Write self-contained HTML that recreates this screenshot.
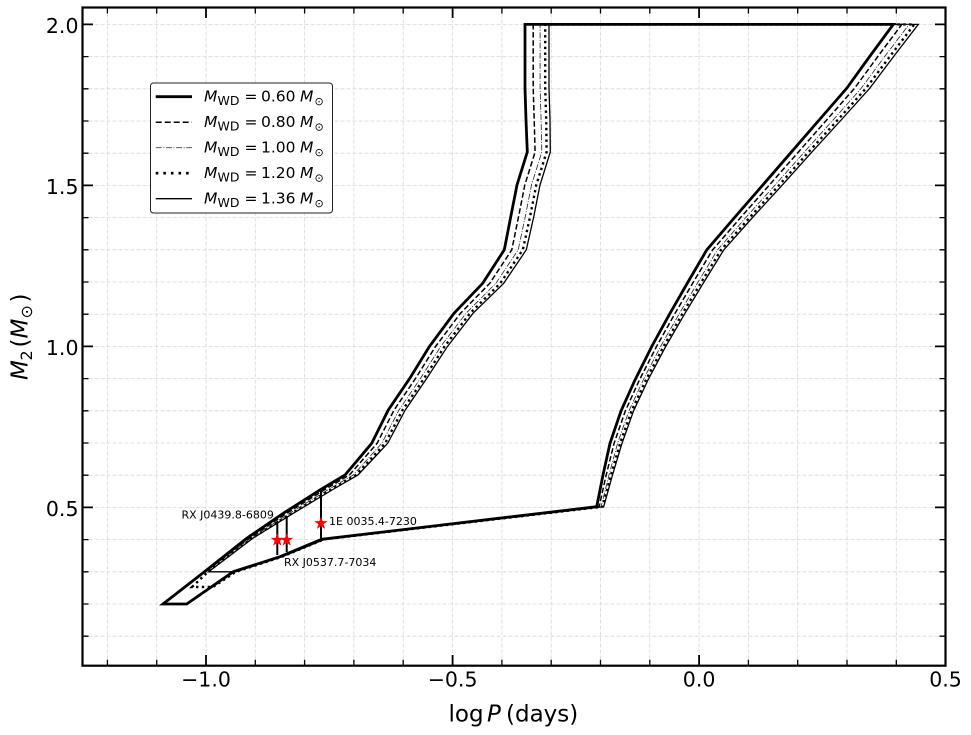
<!DOCTYPE html>
<html><head><meta charset="utf-8"><style>html,body{margin:0;padding:0;background:#fff}svg{display:block}</style></head>
<body>
<svg width="971" height="735" viewBox="0 0 971 735" xmlns="http://www.w3.org/2000/svg" font-family="'DejaVu Sans','Liberation Sans',sans-serif">
<defs><clipPath id="ax"><rect x="82.5" y="7.5" width="863" height="658.2"/></clipPath></defs>
<rect width="971" height="735" fill="#fff"/>
<!-- grid -->
<g stroke="#d8d8d8" stroke-width="0.8" stroke-dasharray="4 2" fill="none">
<path d="M107.4,7.5V665.7M156.7,7.5V665.7M206,7.5V665.7M255.3,7.5V665.7M304.6,7.5V665.7M353.9,7.5V665.7M403.2,7.5V665.7M452.6,7.5V665.7M501.9,7.5V665.7M551.2,7.5V665.7M600.5,7.5V665.7M649.8,7.5V665.7M699.1,7.5V665.7M748.4,7.5V665.7M797.7,7.5V665.7M847,7.5V665.7M896.3,7.5V665.7"/>
<path d="M82.5,636.2H945.5M82.5,604H945.5M82.5,571.8H945.5M82.5,539.6H945.5M82.5,507.4H945.5M82.5,475.2H945.5M82.5,443H945.5M82.5,410.8H945.5M82.5,378.6H945.5M82.5,346.4H945.5M82.5,314.2H945.5M82.5,282H945.5M82.5,249.8H945.5M82.5,217.6H945.5M82.5,185.4H945.5M82.5,153.2H945.5M82.5,121H945.5M82.5,88.8H945.5M82.5,56.6H945.5M82.5,24.4H945.5"/>
</g>
<g clip-path="url(#ax)" fill="none" stroke="#000" stroke-linejoin="miter">
<!-- 1.36 thin solid -->
<path stroke-width="1.3" d="M208.5,571.8 L252.7,538.3 L293.3,513.3 L332,490 L358,475 L387.7,443.3 L405.3,410 L427,378 L447.3,346.7 L473,313.3 L503.7,283.3 L526.3,249.8 L533.7,217 L540,185 L550.3,152 L550,120 L549,88 L549,24.4 L918.3,24.4 L894,56 L869.7,88.3 L840.7,120.5 L811.3,152.7 L782.4,184.9 L753,217 L723.7,250 L704,282 L685,313.3 L666,346 L648,380 L633.5,411 L622,443.3 L612.5,475 L603.7,506.7 L324.7,539.3 L282.5,556.7 L235.5,571.8 Z"/>
<!-- 1.20 dotted -->
<path stroke-width="2.4" stroke-dasharray="2.4 3.4" d="M192,587 L210,570 L251.7,538.3 L291.7,513.3 L330.1,490 L355.9,475 L385.1,443.3 L402.6,410 L424.3,378 L444.4,346.7 L470,313.3 L500.3,283.3 L522.8,249.8 L530,217 L536.3,185 L546.6,152 L546.2,120 L545.2,88 L545.2,24.4 L914.3,24.4 L890.2,56 L866,88.3 L837.2,120.5 L808,152.7 L779.3,184.9 L750.1,217 L721,250 L701.4,282 L682.6,313.3 L663.8,346 L645.9,380 L631.5,411 L620.1,443.3 L611,475 L602.6,506.7 L324.2,539.3 L282,556.7 L235.5,572 L213,587 Z"/>
<!-- 1.00 dash-dot thin -->
<path stroke-width="0.8" stroke="#222" stroke-dasharray="6 1.6 1 1.6" d="M164,604 L208,570 L250.5,538.3 L289.6,513.3 L327.6,490 L353.2,475 L381.8,443.3 L399,410 L420.7,378 L440.6,346.7 L466,313.3 L495.9,283.3 L518.2,249.8 L525.2,217 L531.5,185 L541.8,152 L541.1,120 L540.1,88 L540.1,24.4 L909.1,24.4 L885.1,56 L861.2,88.3 L832.6,120.5 L803.7,152.7 L775.2,184.9 L746.3,217 L717.4,250 L698.1,282 L679.5,313.3 L660.8,346 L643.2,380 L628.9,411 L617.6,443.3 L609,475 L601.1,506.7 L323.6,539.3 L281.3,556.7 L234.6,571.7 L188,604 Z"/>
<!-- 0.80 dashed -->
<path stroke-width="1.5" stroke-dasharray="5.5 2.6" d="M163,604 L207.4,570 L248.7,538.3 L286.7,513.3 L324.1,490 L349.4,475 L377.1,443.3 L394.1,410 L415.8,378 L435.4,346.7 L460.5,313.3 L489.8,283.3 L511.8,249.8 L518.5,217 L524.8,185 L535.1,152 L534.2,120 L533.2,88 L533.2,24.4 L901.8,24.4 L878.2,56 L854.5,88.3 L826.2,120.5 L797.8,152.7 L769.5,184.9 L741.1,217 L712.5,250 L693.4,282 L675.1,313.3 L656.8,346 L639.4,380 L625.3,411 L614.1,443.3 L606.2,475 L599.1,506.7 L322.7,539.3 L280.7,556.7 L234,571.7 L187,604 Z"/>
<!-- 0.60 thick -->
<path stroke-width="2.8" d="M163,604 L206.7,570 L246.7,538.3 L283.3,513.3 L320,490 L345,475 L371.7,443.3 L388.3,410 L410,378 L429.3,346.7 L454,313.3 L482.7,283.3 L504.3,249.8 L510.7,217 L517,185 L527.3,152 L526,120 L525,88 L525,24.4 L893.3,24.4 L870,56 L846.7,88.3 L818.7,120.5 L790.8,152.7 L762.9,184.9 L735,217 L706.7,250 L688,282 L670,313.3 L652,346 L635,380 L621,411 L610,443.3 L603,475 L596.7,506.7 L321.7,539.3 L280,556.7 L233.3,571.7 L186.7,604 Z"/>
<!-- error bars -->
<g stroke-width="2">
<line x1="277.3" y1="521" x2="277.3" y2="555"/>
<line x1="286.7" y1="516" x2="286.7" y2="552"/>
<line x1="321" y1="490" x2="321" y2="540"/>
</g>
</g>
<!-- stars -->
<g fill="#ff0000" stroke="#ff0000" stroke-width="0.1">
<polygon transform="translate(277.3,540) scale(6)" points="0,-1 0.235,-0.324 0.951,-0.309 0.38,0.124 0.588,0.809 0,0.4 -0.588,0.809 -0.38,0.124 -0.951,-0.309 -0.235,-0.324"/>
<polygon transform="translate(286.7,540) scale(6)" points="0,-1 0.235,-0.324 0.951,-0.309 0.38,0.124 0.588,0.809 0,0.4 -0.588,0.809 -0.38,0.124 -0.951,-0.309 -0.235,-0.324"/>
<polygon transform="translate(321,523.3) scale(6)" points="0,-1 0.235,-0.324 0.951,-0.309 0.38,0.124 0.588,0.809 0,0.4 -0.588,0.809 -0.38,0.124 -0.951,-0.309 -0.235,-0.324"/>
</g>
<!-- annotations -->
<g font-size="11" fill="#000">
<text x="181.5" y="518.5">RX J0439.8-6809</text>
<text x="329" y="525">1E 0035.4-7230</text>
<text x="284" y="566">RX J0537.7-7034</text>
</g>
<!-- ticks -->
<g stroke="#000" fill="none">
<path stroke-width="1.3" d="M107.4,665.7V659.7M156.7,665.7V659.7M255.3,665.7V659.7M304.6,665.7V659.7M353.9,665.7V659.7M403.2,665.7V659.7M501.9,665.7V659.7M551.2,665.7V659.7M600.5,665.7V659.7M649.8,665.7V659.7M748.4,665.7V659.7M797.7,665.7V659.7M847,665.7V659.7M896.3,665.7V659.7
M107.4,7.5V13.5M156.7,7.5V13.5M255.3,7.5V13.5M304.6,7.5V13.5M353.9,7.5V13.5M403.2,7.5V13.5M501.9,7.5V13.5M551.2,7.5V13.5M600.5,7.5V13.5M649.8,7.5V13.5M748.4,7.5V13.5M797.7,7.5V13.5M847,7.5V13.5M896.3,7.5V13.5
M82.5,636.2H88.5M82.5,604H88.5M82.5,571.8H88.5M82.5,539.6H88.5M82.5,475.2H88.5M82.5,443H88.5M82.5,410.8H88.5M82.5,378.6H88.5M82.5,314.2H88.5M82.5,282H88.5M82.5,249.8H88.5M82.5,217.6H88.5M82.5,153.2H88.5M82.5,121H88.5M82.5,88.8H88.5M82.5,56.6H88.5
M945.5,636.2H939.5M945.5,604H939.5M945.5,571.8H939.5M945.5,539.6H939.5M945.5,475.2H939.5M945.5,443H939.5M945.5,410.8H939.5M945.5,378.6H939.5M945.5,314.2H939.5M945.5,282H939.5M945.5,249.8H939.5M945.5,217.6H939.5M945.5,153.2H939.5M945.5,121H939.5M945.5,88.8H939.5M945.5,56.6H939.5"/>
<path stroke-width="1.8" d="M206,665.7V655M452.6,665.7V655M699.1,665.7V655M206,7.5V18M452.6,7.5V18M699.1,7.5V18M82.5,507.4H93M82.5,346.4H93M82.5,185.4H93M82.5,24.4H93M945.5,507.4H935M945.5,346.4H935M945.5,185.4H935M945.5,24.4H935"/>
<rect x="82.5" y="7.5" width="863" height="658.2" stroke-width="2.2"/>
</g>
<!-- tick labels -->
<g font-size="20.5" fill="#000">
<text x="206" y="686.7" text-anchor="middle">−1.0</text>
<text x="452.6" y="686.7" text-anchor="middle">−0.5</text>
<text x="699.1" y="686.7" text-anchor="middle">0.0</text>
<text x="945.5" y="686.7" text-anchor="middle">0.5</text>
<text x="78.5" y="33" text-anchor="end">2.0</text>
<text x="78.5" y="194" text-anchor="end">1.5</text>
<text x="78.5" y="355" text-anchor="end">1.0</text>
<text x="78.5" y="516" text-anchor="end">0.5</text>
</g>
<!-- axis labels -->
<text y="721.7" font-size="23" fill="#000"><tspan x="448.5">log</tspan><tspan x="487" font-style="italic">P</tspan><tspan x="506">(days)</tspan></text>
<text transform="translate(27.5,380) rotate(-90)" font-size="23" fill="#000"><tspan x="0" font-style="italic">M</tspan><tspan x="19.5" dy="4.5" font-size="16">2</tspan><tspan x="32.5" dy="-4.5">(</tspan><tspan x="41.5" font-style="italic">M</tspan><tspan x="61.5" dy="4.5" font-size="16">⊙</tspan><tspan x="77.5" dy="-4.5">)</tspan></text>
<!-- legend -->
<rect x="150.5" y="83" width="182" height="130" rx="3" fill="#fff" stroke="#222" stroke-width="1"/>
<g stroke="#000" fill="none">
<line x1="155.7" y1="96.7" x2="192" y2="96.7" stroke-width="2.8"/>
<line x1="155.7" y1="122.2" x2="192" y2="122.2" stroke-width="1.5" stroke-dasharray="6 3"/>
<line x1="155.7" y1="147.7" x2="192" y2="147.7" stroke-width="0.8" stroke="#444" stroke-dasharray="6 1.6 1 1.6"/>
<line x1="155.7" y1="173.2" x2="192" y2="173.2" stroke-width="2.6" stroke-dasharray="2.6 5"/>
<line x1="155.7" y1="198.7" x2="192" y2="198.7" stroke-width="1.3"/>
</g>
<g font-size="15.5" fill="#000">
<text y="101.7"><tspan x="204" font-style="italic">M</tspan><tspan x="217.5" dy="3.5" font-size="12.5">WD</tspan><tspan x="244.5" dy="-3.5">=</tspan><tspan x="261">0.60</tspan><tspan x="300" font-style="italic">M</tspan><tspan x="314.5" dy="3.5" font-size="11">⊙</tspan></text>
<text y="127.2"><tspan x="204" font-style="italic">M</tspan><tspan x="217.5" dy="3.5" font-size="12.5">WD</tspan><tspan x="244.5" dy="-3.5">=</tspan><tspan x="261">0.80</tspan><tspan x="300" font-style="italic">M</tspan><tspan x="314.5" dy="3.5" font-size="11">⊙</tspan></text>
<text y="152.7"><tspan x="204" font-style="italic">M</tspan><tspan x="217.5" dy="3.5" font-size="12.5">WD</tspan><tspan x="244.5" dy="-3.5">=</tspan><tspan x="261">1.00</tspan><tspan x="300" font-style="italic">M</tspan><tspan x="314.5" dy="3.5" font-size="11">⊙</tspan></text>
<text y="178.2"><tspan x="204" font-style="italic">M</tspan><tspan x="217.5" dy="3.5" font-size="12.5">WD</tspan><tspan x="244.5" dy="-3.5">=</tspan><tspan x="261">1.20</tspan><tspan x="300" font-style="italic">M</tspan><tspan x="314.5" dy="3.5" font-size="11">⊙</tspan></text>
<text y="203.7"><tspan x="204" font-style="italic">M</tspan><tspan x="217.5" dy="3.5" font-size="12.5">WD</tspan><tspan x="244.5" dy="-3.5">=</tspan><tspan x="261">1.36</tspan><tspan x="300" font-style="italic">M</tspan><tspan x="314.5" dy="3.5" font-size="11">⊙</tspan></text>
</g>
</svg>
</body></html>
